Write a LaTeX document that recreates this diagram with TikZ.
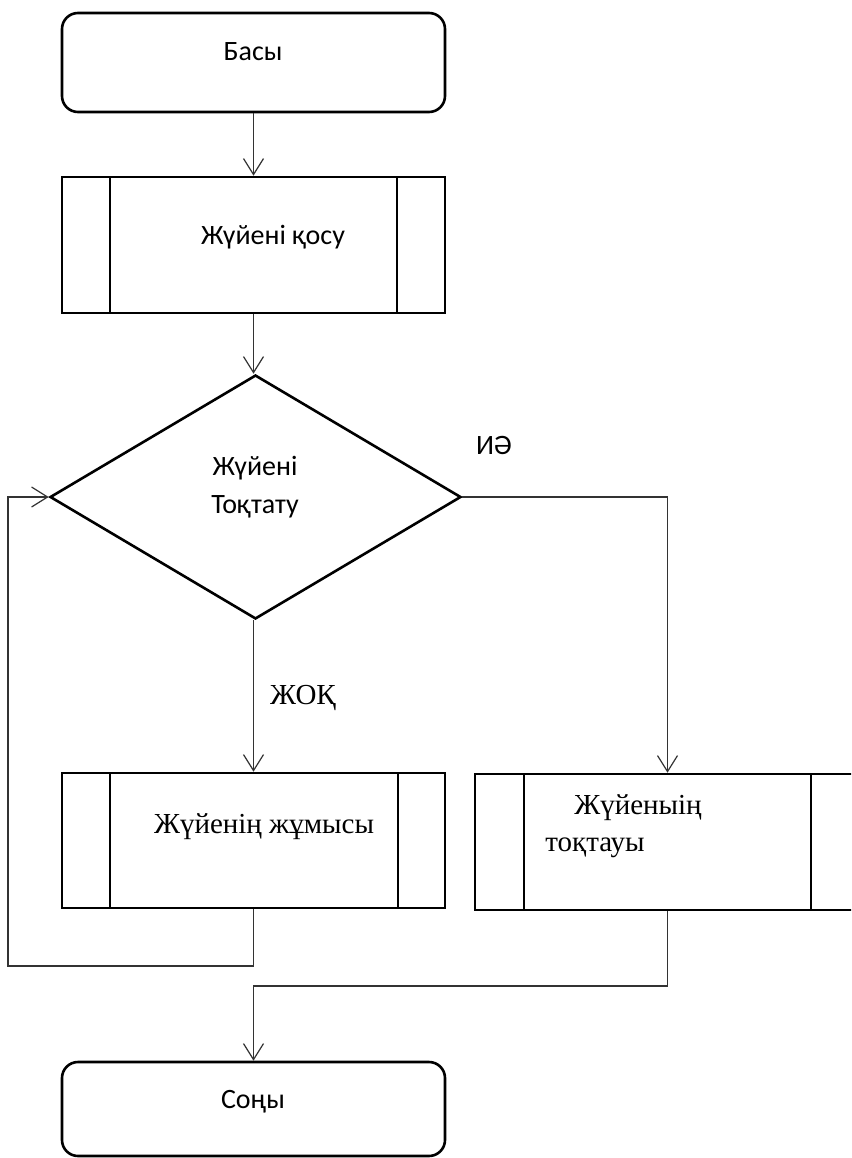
\documentclass[tikz,border=0pt]{standalone}
\usepackage{fontspec}
\setmainfont{Carlito}
\newfontfamily\serifk{Liberation Serif}
\usetikzlibrary{shapes.geometric,arrows.meta,calc}
\begin{document}
\begin{tikzpicture}[x=1pt,y=-1pt,
  box/.style={draw=black,line width=2.6pt,inner sep=0pt,minimum width=383pt},
  term/.style={box,rounded corners=16pt},
  proc/.style={box},
  dec/.style={draw=black,line width=2.6pt,shape=diamond,inner sep=0pt,minimum width=411pt,minimum height=244pt},
  conn/.style={draw=black!80,line width=1.2pt},
  arr/.style={conn,-{Straight Barb[length=16pt,width=20pt,line width=1.2pt]}},
  sans/.style={font=\fontsize{28}{34}\selectfont},
  serif/.style={font=\serifk\fontsize{29}{35}\selectfont},
]
\useasboundingbox (0,0) rectangle (851,1158);
\fill[white] (0,0) rectangle (851,1158);

% shapes
\node[term,minimum height=99pt] (start) at (253.5,62.5) {};
\node[proc,minimum height=136pt] (p1) at (253.5,245) {};
\draw[line width=2.6pt] (110,177) -- (110,313) (397,177) -- (397,313);
\node[dec] (d) at (255.5,497) {};
\node[proc,minimum height=135pt] (p2) at (253.5,840.5) {};
\draw[line width=2.6pt] (110,773) -- (110,908) (398,773) -- (398,908);
\begin{scope}
\clip (0,0) rectangle (851,1158);
\node[proc,minimum width=385pt,minimum height=136pt] (p3) at (667.5,842) {};
\draw[line width=2.6pt] (524,774) -- (524,910) (811,774) -- (811,910);
\end{scope}
\node[term,minimum height=94pt] (end) at (253.5,1109) {};

% texts
\node[sans] (t1) at (253,52) {Басы};
\node[sans] (t2) at (273,237) {Жүйені қосу};
\node[sans] (t3a) at (255,468) {Жүйені};
\node[sans] (t3b) at (255,507) {Тоқтату};
\node[sans] (yes) at (494,445) {ИӘ};
\node[serif] (no) at (303,698) {ЖОҚ};
\node[serif] (t4) at (264,827) {Жүйенің жұмысы};
\node[serif] (t5a) at (638,808) {Жүйеныің};
\node[serif] (t5b) at (595,848) {тоқтауы};
\node[sans] (t6) at (253,1102) {Соңы};

% connectors
\coordinate (c1) at (253.5,966);
\coordinate (c2) at (8,966);
\coordinate (c3) at (8,497);
\coordinate (c4) at (667.5,986);
\coordinate (c5) at (253.5,986);
\draw[arr] (start.south) -- (p1.north);
\draw[arr] (p1.south) -- (d.north -| p1.south);
\draw[arr] (d.south -| p2.north) -- (p2.north);
\draw[arr] (d.east) -| (p3.north);
\draw[arr] (p2.south) -- (c1) -- (c2) -- (c3) -- (d.west);
\draw[arr] (p3.south) -- (c4) -- (c5) -- (end.north);
\end{tikzpicture}
\end{document}
